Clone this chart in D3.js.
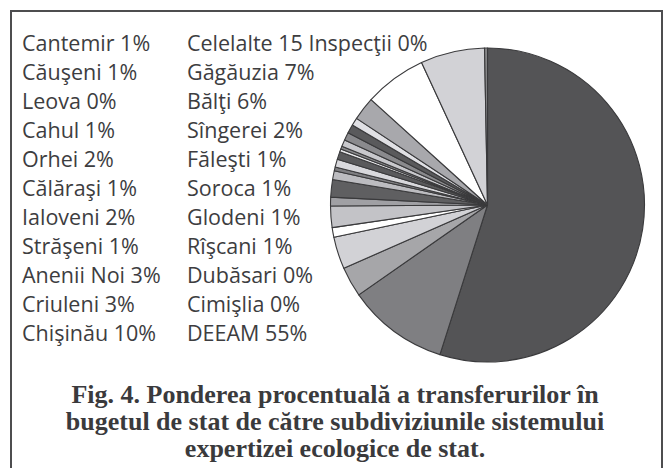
<!DOCTYPE html>
<html>
<head>
<meta charset="utf-8">
<script src="https://cdn.jsdelivr.net/npm/d3@7"></script>
<style>
  body { margin: 0; background: #fff; }
  svg { display: block; }
</style>
</head>
<body>
<div class="canvas"></div>
<script>
// slices in clockwise order, starting at 12 o'clock
const names = ['DEEAM', 'Chişinău', 'Criuleni', 'Anenii Noi', 'Străşeni', 'Ialoveni',
  'Călăraşi', 'Orhei', 'Cahul', 'Leova', 'Căuşeni', 'Cantemir', 'Cimişlia', 'Dubăsari',
  'Rîşcani', 'Glodeni', 'Soroca', 'Făleşti', 'Sîngerei', 'Bălţi', 'Găgăuzia',
  'Celelalte 15 Inspecţii'];
const shares = [54.9, 10.4, 3.1, 3.3, 1.0, 2.2,
  0.9, 1.8, 0.9, 0.4, 0.8, 0.8, 0.3, 0.3,
  0.7, 0.8, 0.9, 0.8, 2.4, 6.4, 6.6,
  0.3];
const leftColumn = ['Cantemir', 'Căuşeni', 'Leova', 'Cahul', 'Orhei', 'Călăraşi',
  'Ialoveni', 'Străşeni', 'Anenii Noi', 'Criuleni', 'Chişinău'];
const rightColumn = ['Celelalte 15 Inspecţii', 'Găgăuzia', 'Bălţi', 'Sîngerei', 'Făleşti',
  'Soroca', 'Glodeni', 'Rîşcani', 'Dubăsari', 'Cimişlia', 'DEEAM'];
const captionLines = ['Fig. 4. Ponderea procentuală a transferurilor în',
  'bugetul de stat de către subdiviziunile sistemului',
  'expertizei ecologice de stat.'];

const greys = ['#545456', '#7f7f82', '#a6a6a9', '#d2d2d6', '#ffffff', '#c3c3c7',
  '#a0a0a4', '#5f5f61', '#bcbcc0', '#7f7f82', '#d8d8dc', '#5a5a5c', '#e8e8ea', '#8a8a8c',
  '#c8c8cc', '#8a8a8d', '#5a5a5c', '#e0e0e4', '#a8a8ac', '#ffffff', '#d2d2d6', '#8a8a8c'];

const width = 667, height = 468;
const svg = d3.select('.canvas')
  .append('svg')
  .attr('width', width)
  .attr('height', height);

// frame
svg.append('rect')
  .attr('x', 11)
  .attr('y', 11)
  .attr('width', 651)
  .attr('height', 480)
  .attr('fill', 'none')
  .attr('stroke', '#4d4d4f')
  .attr('stroke-width', 2);

// pie
const data = names.map((n, i) => ({ name: n, value: shares[i] }));
const pie = d3.pie().sort(null).value(d => d.value);
const arc = d3.arc().innerRadius(0).outerRadius(157);
const color = d3.scaleOrdinal().domain(names).range(greys);

const g = svg.append('g').attr('transform', 'translate(487.5,205)');
g.selectAll('path')
  .data(pie(data))
  .join('path')
  .attr('d', arc)
  .attr('fill', d => color(d.data.name))
  .attr('stroke', '#3a3a3c')
  .attr('stroke-width', 1.1)
  .attr('stroke-linejoin', 'round');

// legend text
const pct = name => Math.round(shares[names.indexOf(name)]) + '%';
const row = d3.scaleLinear().domain([0, 1]).range([50.5, 79.5]);

const legend = (list, x) => {
  svg.append('g').selectAll('text')
    .data(list)
    .join('text')
    .attr('x', x)
    .attr('y', (d, i) => row(i))
    .attr('font-family', 'Open Sans, sans-serif')
    .attr('font-size', 21.5)
    .attr('fill', '#3d3d3f')
    .text(d => d + ' ' + pct(d));
};
legend(leftColumn, 22);
legend(rightColumn, 187);

// caption
svg.append('g').selectAll('text')
  .data(captionLines)
  .join('text')
  .attr('x', 335)
  .attr('y', (d, i) => 403 + i * 27)
  .attr('text-anchor', 'middle')
  .attr('font-family', 'Liberation Serif, serif')
  .attr('font-weight', 'bold')
  .attr('font-size', 26)
  .attr('fill', '#3a3a3c')
  .text(d => d);
</script>
</body>
</html>
